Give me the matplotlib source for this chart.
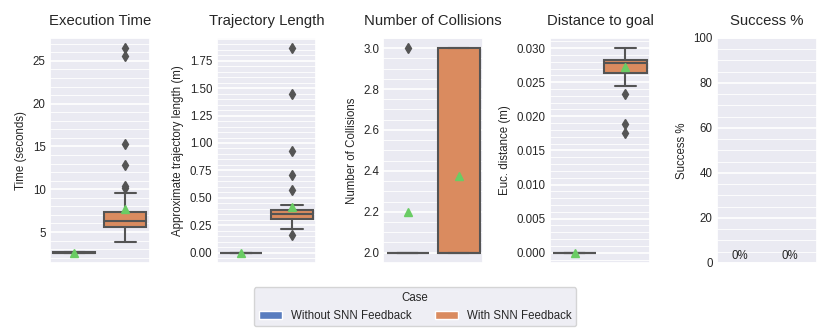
import matplotlib
matplotlib.use("Agg")
import matplotlib.pyplot as plt
import seaborn as sns
from matplotlib.patches import Patch
from matplotlib.ticker import MultipleLocator, AutoMinorLocator

# --- data ---
cases = ["Without SNN Feedback", "With SNN Feedback"]

time_without = [2.58, 2.59, 2.60, 2.61, 2.62]
time_with = [3.85, 4.3, 4.7, 4.9, 5.1, 5.2, 5.3, 5.35, 5.4, 5.45, 5.5, 5.58,
             5.65, 5.7, 5.8, 5.85, 5.9, 6.0, 6.05, 6.1, 6.15, 6.2, 6.25, 6.28,
             6.32, 6.4, 6.5, 6.6, 6.7, 6.8, 6.9, 7.0, 7.1, 7.2, 7.25, 7.3,
             7.5, 8.1, 8.7, 9.1, 9.4, 9.6, 10.2, 10.4, 12.8, 15.3, 25.6, 26.5]

length_without = [0.0, 0.0, 0.0, 0.0, 0.0]
length_with = [0.165, 0.215, 0.24, 0.26, 0.27, 0.28, 0.285, 0.29, 0.295, 0.298,
               0.30, 0.303, 0.307, 0.31, 0.315, 0.32, 0.325, 0.33, 0.335, 0.338,
               0.341, 0.344, 0.346, 0.348, 0.352, 0.355, 0.358, 0.36, 0.363,
               0.366, 0.37, 0.373, 0.376, 0.379, 0.382, 0.385, 0.39, 0.395,
               0.40, 0.41, 0.42, 0.428, 0.434, 0.57, 0.71, 0.925, 1.45, 1.865]

collisions_without = [2, 2, 2, 2, 3]
collisions_with = [2] * 30 + [3] * 18

dist_without = [0.0, 0.0, 0.0, 0.0, 0.0]
dist_with = [0.01755, 0.0188, 0.0233, 0.0244, 0.0250, 0.0254, 0.0257, 0.0259,
             0.0260, 0.0261, 0.0262, 0.0263, 0.0264, 0.0266, 0.0268, 0.0270,
             0.0272, 0.0273, 0.0274, 0.0275, 0.0276, 0.0277, 0.0278, 0.0278,
             0.0279, 0.0279, 0.0279, 0.0280, 0.0280, 0.0280, 0.0281, 0.0281,
             0.0281, 0.0282, 0.0282, 0.0282, 0.0283, 0.0285, 0.0287, 0.0289,
             0.0291, 0.0293, 0.0294, 0.0296, 0.0297, 0.0298, 0.0299, 0.0300]

success = [0, 0]

titles = ["Execution Time", "Trajectory Length", "Number of Collisions",
          "Distance to goal", "Success %"]
ylabels = ["Time (seconds)", "Approximate trajectory length (m)",
           "Number of Collisions", "Euc. distance (m)", "Success %"]
steps = [5, 0.25, 0.2, 0.005, 20]

# --- style ---
sns.set_theme(style="darkgrid", palette="muted")
plt.rcParams["font.family"] = ["Liberation Sans", "DejaVu Sans"]

colors = ["#597DBF", "#DA8B5F"]
gray = "#545454"
green = "#6ACC64"
pos = [-0.255, 0.255]
w = 0.425

fig, axes = plt.subplots(1, 5, figsize=(8.3, 3.32), dpi=100)
fig.subplots_adjust(left=0.060, right=0.984, bottom=0.208, top=0.886, wspace=0.67)

boxdata = [(time_without, time_with), (length_without, length_with),
           (collisions_without, collisions_with), (dist_without, dist_with)]

for i, ax in enumerate(axes):
    ax.set_axisbelow(True)
    if i < 4:
        bp = ax.boxplot(list(boxdata[i]), positions=pos, widths=w,
                        capwidths=w / 2, patch_artist=True, showmeans=True,
                        manage_ticks=False,
                        boxprops=dict(edgecolor=gray, linewidth=1.5),
                        medianprops=dict(color=gray, linewidth=1.5),
                        whiskerprops=dict(color=gray, linewidth=1.5),
                        capprops=dict(color=gray, linewidth=1.5),
                        flierprops=dict(marker="d", markersize=5, markerfacecolor=gray,
                                        markeredgecolor=gray),
                        meanprops=dict(marker="^", markersize=6, markerfacecolor=green,
                                       markeredgecolor=green))
        for patch, c in zip(bp["boxes"], colors):
            patch.set_facecolor(c)
    else:
        bars = ax.bar(pos, success, width=w, color=colors)
        for b, v in zip(bars, success):
            ax.text(b.get_x() + b.get_width() / 2 - 0.02, v + 0.5, f"{v}%",
                    ha="center", va="bottom", fontsize=8.3, color="#262626")
        ax.set_ylim(0, 100)

    ax.set_xlim(-0.5, 0.5)
    ax.set_xticks([])
    ax.yaxis.set_major_locator(MultipleLocator(steps[i]))
    ax.yaxis.set_minor_locator(AutoMinorLocator())
    ax.grid(axis="y", which="major", color="white", linewidth=1.2)
    ax.grid(axis="y", which="minor", color="white", linewidth=0.6)
    ax.grid(axis="x", visible=False)
    ax.tick_params(axis="y", which="both", length=0, labelsize=8.3, pad=3)
    ax.set_title(titles[i], fontsize=10.7, pad=9)
    ax.set_ylabel(ylabels[i], fontsize=8.3)

handles = [Patch(facecolor=c, label=l) for c, l in zip(colors, cases)]
fig.legend(handles=handles, title="Case", ncol=2, loc="lower center",
           bbox_to_anchor=(0.5, 0.0), fontsize=8.3, title_fontsize=8.3)

fig.savefig("out.png", dpi=100)
